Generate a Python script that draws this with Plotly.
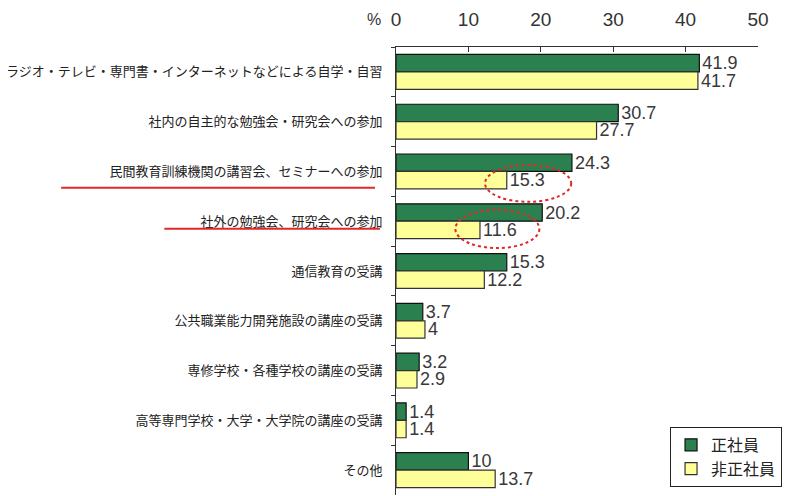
import plotly.graph_objects as go

# ==========================================================
# Data
# ==========================================================

categories = [
    "ラジオ・テレビ・専門書・インターネットなどによる自学・自習",
    "社内の自主的な勉強会・研究会への参加",
    "民間教育訓練機関の講習会、セミナーへの参加",
    "社外の勉強会、研究会への参加",
    "通信教育の受講",
    "公共職業能力開発施設の講座の受講",
    "専修学校・各種学校の講座の受講",
    "高等専門学校・大学・大学院の講座の受講",
    "その他",
]

regular = [41.9, 30.7, 24.3, 20.2, 15.3, 3.7, 3.2, 1.4, 10]
non_regular = [41.7, 27.7, 15.3, 11.6, 12.2, 4, 2.9, 1.4, 13.7]

series_names = ["正社員", "非正社員"]
x_ticks = [0, 10, 20, 30, 40, 50]

FONT = "Noto Sans CJK JP"
GREEN = "#2b8050"
YELLOW = "#ffff99"
RED = "#e02828"

# ==========================================================
# Bars
# ==========================================================

bar_style = dict(
    orientation="h",
    textposition="outside",
    constraintext="none",
    cliponaxis=False,
    textfont=dict(family="Liberation Sans", size=18, color="#383838"),
)

fig = go.Figure()
fig.add_trace(
    go.Bar(
        y=categories,
        x=regular,
        name=series_names[0],
        text=[f"{v:g}" for v in regular],
        marker=dict(color=GREEN, line=dict(color="#111111", width=1.2)),
        **bar_style,
    )
)
fig.add_trace(
    go.Bar(
        y=categories,
        x=non_regular,
        name=series_names[1],
        text=[f"{v:g}" for v in non_regular],
        marker=dict(color=YELLOW, line=dict(color="#333333", width=1.2)),
        **bar_style,
    )
)

# ==========================================================
# Highlights (red underlines + dotted ellipses)
# ==========================================================

shapes = [
    dict(type="line", xref="paper", yref="y", x0=-0.925, x1=-0.058, y0=2.33, y1=2.33,
         line=dict(color=RED, width=2)),
    dict(type="line", xref="paper", yref="y", x0=-0.64, x1=-0.044, y0=3.15, y1=3.15,
         line=dict(color=RED, width=2)),
    dict(type="circle", xref="x", yref="y", x0=12.3, x1=24.2, y0=1.87, y1=2.61,
         line=dict(color=RED, width=2, dash="dot")),
    dict(type="circle", xref="x", yref="y", x0=8.2, x1=19.8, y0=2.77, y1=3.54,
         line=dict(color=RED, width=2, dash="dot")),
]

# the page body adds an 8px offset, margins compensate for it
fig.update_layout(
    width=800,
    height=496,
    margin=dict(l=388, r=50, t=39, b=9),
    paper_bgcolor="white",
    plot_bgcolor="white",
    barmode="group",
    bargap=0.3,
    bargroupgap=0,
    font=dict(family=FONT, color="#333333"),
    shapes=shapes,
    showlegend=True,
    legend=dict(
        x=0.757,
        y=0.152,
        xanchor="left",
        yanchor="top",
        bordercolor="#222222",
        borderwidth=1,
        bgcolor="white",
        font=dict(family=FONT, size=16, color="#222222"),
        tracegroupgap=0,
    ),
    xaxis=dict(
        side="top",
        range=[0, 50],
        tickvals=x_ticks,
        ticks="inside",
        ticklen=5,
        tickcolor="#333333",
        showgrid=False,
        zeroline=False,
        showline=True,
        linecolor="#333333",
        linewidth=1,
        automargin=False,
        tickfont=dict(family="Liberation Sans", size=19, color="#333333"),
        ticklabelstandoff=12,
    ),
    yaxis=dict(
        autorange="reversed",
        showgrid=False,
        showline=True,
        linecolor="#333333",
        linewidth=1,
        ticks="outside",
        tickson="boundaries",
        ticklen=4,
        tickcolor="#333333",
        automargin=False,
        tickfont=dict(family=FONT, size=13, color="#222222"),
        ticklabelstandoff=10,
    ),
    annotations=[
        dict(text="%", xref="paper", yref="paper", x=-0.085, y=1, yanchor="bottom",
             yshift=17, showarrow=False,
             font=dict(family="Liberation Sans", size=16, color="#333333")),
    ],
)

fig.write_html("out.html")
